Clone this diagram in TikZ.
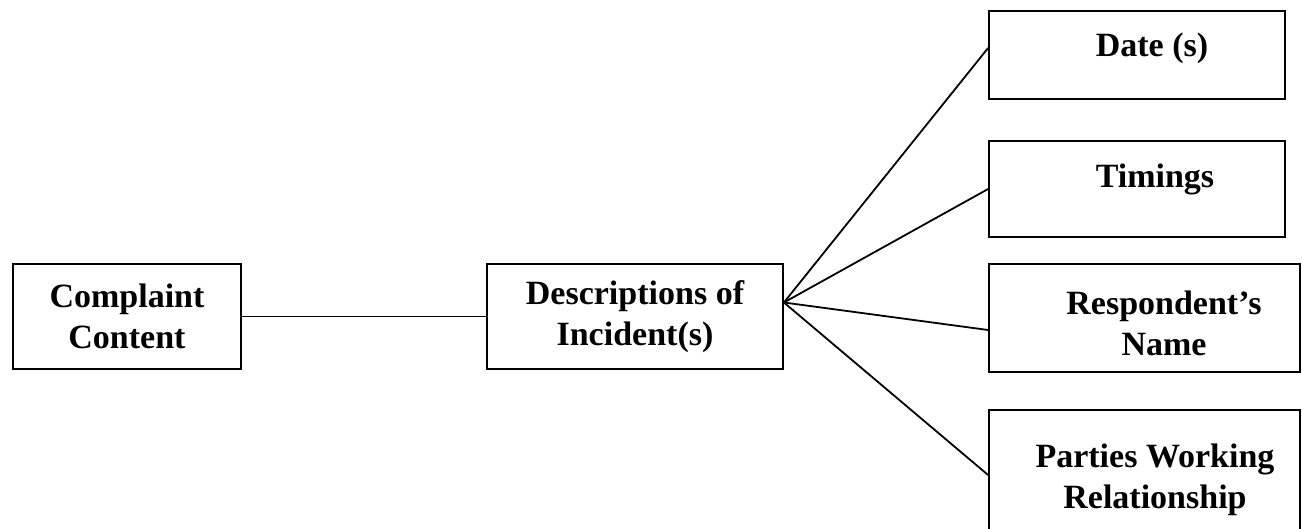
\documentclass[tikz,border=0pt]{standalone}
\usepackage{fontspec}
\setmainfont{Liberation Serif}
\usetikzlibrary{calc}
\def\boxfont{\bfseries\fontsize{34}{41}\selectfont}

\begin{document}
\begin{tikzpicture}[x=1pt, y=-1pt, line width=1.8pt,
	box/.style={draw, rectangle, inner sep=0pt, align=center, font=\boxfont},
	lbl/.style={inner sep=0pt, align=center, font=\boxfont}]
	\clip (0,0) rectangle (1302,529);
	% left part
	\node[box, minimum width=228pt, minimum height=105pt] (comp) at (127,316.5) {Complaint\\Content};
	\node[box, minimum width=296pt, minimum height=105pt] (desc) at (635,316.5) {Descriptions of\\Incident(s)};
	\draw (comp) -- (desc);
	% right column
	\node[box, minimum width=296pt, minimum height=88pt] (date) at (1137,55) {};
	\node[box, minimum width=296pt, minimum height=96pt] (tim) at (1137,189) {};
	\node[box, minimum width=311pt, minimum height=108pt] (resp) at (1144.5,318) {};
	\node[box, minimum width=311pt, minimum height=130pt] (part) at (1144.5,475) {};
	\node[lbl, anchor=base] (dateT) at (1152,57) {Date (s)};
	\node[lbl, anchor=base] (timT) at (1155,188) {Timings};
	\node[lbl] (respT) at (1164,323) {Respondent's\\Name};
	\node[lbl] (partT) at (1155,480) {Parties Working\\Relationship};
	% fan
	\coordinate (fan) at ([yshift=14pt]desc.east);
	\draw (fan) -- ([yshift=7pt]date.west);
	\draw (fan) -- (tim.west);
	\draw (fan) -- ([yshift=-12pt]resp.west);
	\draw (fan) -- (part.west);
\end{tikzpicture}
\end{document}
